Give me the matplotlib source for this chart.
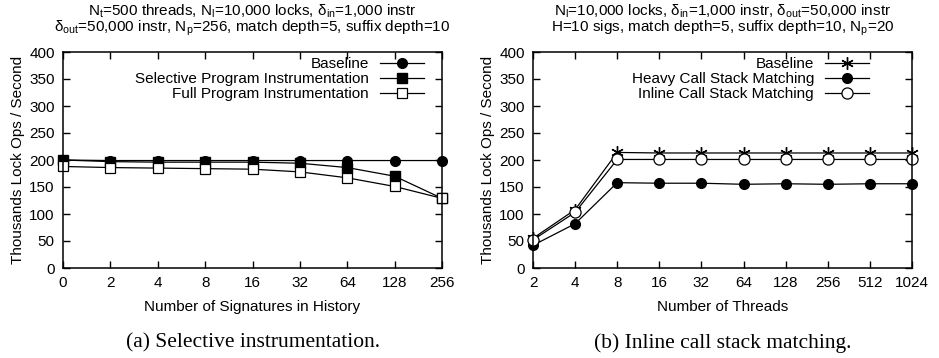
import numpy as np
import matplotlib
matplotlib.use("Agg")
import matplotlib.pyplot as plt

plt.rcParams['font.family'] = ['Liberation Sans', 'DejaVu Sans']
plt.rcParams['mathtext.fontset'] = 'custom'
plt.rcParams['mathtext.rm'] = 'Liberation Sans'
plt.rcParams['mathtext.it'] = 'Liberation Sans:italic'

# (a) selective instrumentation
sig_labels = ['0', '2', '4', '8', '16', '32', '64', '128', '256']
base_a = [200, 199, 199, 199, 199, 199, 199, 199, 199]
selective = [200, 197, 196, 196, 196, 194, 186, 170, 129]
full = [188, 186, 185, 184, 183, 178, 167, 151, 129]

# (b) inline call stack matching
thread_labels = ['2', '4', '8', '16', '32', '64', '128', '256', '512', '1024']
base_b = [55, 108, 214, 213, 213, 213, 213, 213, 213, 213]
heavy = [42, 82, 158, 157, 157, 155, 156, 155, 156, 156]
inline = [52, 103, 201, 201, 201, 201, 201, 201, 201, 201]

fig = plt.figure(figsize=(9.39, 3.58), dpi=100)
W, H = 939., 358.
ax1 = fig.add_axes([63/W, (H-268)/H, (442-63)/W, (268-52)/H])
ax2 = fig.add_axes([533/W, (H-268)/H, (912-533)/W, (268-52)/H])

fs = 11

def style(ax, labels, xlabel):
    n = len(labels)
    ax.set_xlim(0, n-1)
    ax.set_ylim(0, 400)
    ax.set_xticks(range(n))
    ax.set_xticklabels(labels)
    ax.set_yticks(range(0, 401, 50))
    ax.tick_params(direction='in', top=True, right=True, length=5, width=1,
                   labelsize=fs, pad=6)
    for s in ax.spines.values():
        s.set_linewidth(1.1)
    ax.set_ylabel('Thousands Lock Ops / Second', fontsize=fs, labelpad=3)
    ax.set_xlabel(xlabel, fontsize=fs, labelpad=7)

kw = dict(color='black', lw=0.9, clip_on=False)
x = range(len(sig_labels))
ax1.plot(x, base_a, marker='o', ms=7, label='Baseline', **kw)
ax1.plot(x, selective, marker='s', ms=7.5, label='Selective Program Instrumentation', **kw)
ax1.plot(x, full, marker='s', ms=7, mfc='white', mew=0.9, label='Full Program Instrumentation', **kw)
style(ax1, sig_labels, 'Number of Signatures in History')

x = range(len(thread_labels))
ax2.plot(x, base_b, marker=(6, 2, 0), ms=9, mew=1.0, label='Baseline', **kw)
ax2.plot(x, heavy, marker='o', ms=7, label='Heavy Call Stack Matching', **kw)
ax2.plot(x, inline, marker='o', ms=8, mfc='white', mew=0.9, label='Inline Call Stack Matching', **kw)
style(ax2, thread_labels, 'Number of Threads')

for ax, right in ((ax1, 424), (ax2, 869)):
    ax.legend(loc='upper right', bbox_to_anchor=(right/W, (H-57)/H), bbox_transform=fig.transFigure,
              frameon=False, markerfirst=False, fontsize=fs, handlelength=2.9,
              handletextpad=0.7, labelspacing=0.07, borderpad=0, borderaxespad=0)

cx1 = (63+442)/2/W
cx2 = (533+912)/2/W
tkw = dict(ha='center', va='baseline', fontsize=fs)
fig.text(cx1, (H-16)/H, 'N$_\\mathrm{t}$=500 threads, N$_\\mathrm{l}$=10,000 locks, δ$_\\mathrm{in}$=1,000 instr', **tkw)
fig.text(cx1, (H-32)/H, 'δ$_\\mathrm{out}$=50,000 instr, N$_\\mathrm{p}$=256, match depth=5, suffix depth=10', **tkw)
fig.text(cx2, (H-16)/H, 'N$_\\mathrm{l}$=10,000 locks, δ$_\\mathrm{in}$=1,000 instr, δ$_\\mathrm{out}$=50,000 instr', **tkw)
fig.text(cx2, (H-32)/H, 'H=10 sigs, match depth=5, suffix depth=10, N$_\\mathrm{p}$=20', **tkw)

fig.text(cx1, (H-343)/H, '(a) Selective instrumentation.', ha='center', va='center',
         fontsize=15.5, family='Liberation Serif')
fig.text(cx2, (H-343)/H, '(b) Inline call stack matching.', ha='center', va='center',
         fontsize=15.5, family='Liberation Serif')

fig.savefig('out.png', dpi=100)
